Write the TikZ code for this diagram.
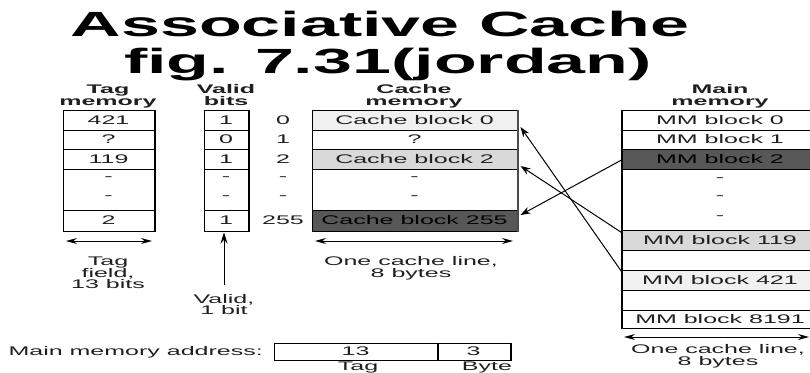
\documentclass[tikz,border=0pt]{standalone}
\usepackage{fontspec}
\setmainfont[FakeStretch=2.0]{Liberation Sans}
\usetikzlibrary{arrows.meta}
\definecolor{lightA}{gray}{0.94}
\definecolor{lightB}{gray}{0.85}
\definecolor{darkC}{gray}{0.34}
\definecolor{txt}{gray}{0.12}
\newcommand\tblfont{\fontsize{12.5}{13}\selectfont}
\newcommand\ttlfont{\fontsize{35}{38}\selectfont\bfseries}
\begin{document}
\begin{tikzpicture}[x=1pt,y=-1pt,
  every node/.style={inner sep=0pt, text=txt, font=\tblfont},
  cell/.style={draw=black, line width=1pt, minimum height=#1},
  cell/.default=20,
  hdr/.style={anchor=base, font=\tblfont\bfseries},
  lbl/.style={anchor=base},
  dblarrow/.style={line width=1pt, {Stealth[length=11pt,width=6pt]}-{Stealth[length=11pt,width=6pt]}},
  conn/.style={line width=1pt, -{Stealth[length=10pt,width=7pt]}},
  thick edge/.style={line width=2pt}]
\useasboundingbox (0,0) rectangle (810,372);
\clip (0,0) rectangle (810,372);

% title
\node[anchor=base, font=\ttlfont, text=black] (title1) at (380,36) {Associative Cache};
\node[anchor=base, font=\ttlfont, text=black] (title2) at (388,73) {fig. 7.31(jordan)};

% headers
\node[hdr] (h1a) at (108,93) {Tag};
\node[hdr] (h1b) at (108,105) {memory};
\node[hdr] (h2a) at (226,93) {Valid};
\node[hdr] (h2b) at (226,105) {bits};
\node[hdr] (h3a) at (414,93) {Cache};
\node[hdr] (h3b) at (414,105) {memory};
\node[hdr] (h4a) at (720,93) {Main};
\node[hdr] (h4b) at (720,105) {memory};

% tag memory
\begin{scope}[every node/.append style={minimum width=91}]
\node[cell] (t0) at (108.5,120) {421};
\node[cell=19] (t1) at (108.5,139.5) {?};
\node[cell] (t2) at (108.5,159) {119};
\node[cell=41] (td) at (108.5,189.5) {};
\node[cell=21] (t3) at (108.5,220.5) {2};
\end{scope}
\node (tdot1) at (108.5,179) {-};
\node (tdot2) at (108.5,198) {-};
\draw[thick edge] (t0.north east) -- (t3.south east);

% valid bits
\begin{scope}[every node/.append style={minimum width=44}]
\node[cell] (v0) at (226,120) {1};
\node[cell=19] (v1) at (226,139.5) {0};
\node[cell] (v2) at (226,159) {1};
\node[cell=41] (vd) at (226,189.5) {};
\node[cell=21] (v3) at (226,220.5) {1};
\end{scope}
\node (vdot1) at (226,179) {-};
\node (vdot2) at (226,198) {-};
\draw[thick edge] (v0.north east) -- (v3.south east);

% index numbers
\node (i0) at (283,120) {0};
\node (i1) at (283,139.5) {1};
\node (i2) at (283,159) {2};
\node (id1) at (283,179) {-};
\node (id2) at (283,198) {-};
\node (i3) at (283,220.5) {255};

% cache memory
\begin{scope}[every node/.append style={minimum width=205}]
\node[cell, fill=lightA] (c0) at (414.5,120) {Cache block 0};
\node[cell=19] (c1) at (414.5,139.5) {?};
\node[cell, fill=lightB] (c2) at (414.5,159) {Cache block 2};
\node[cell=41] (cd) at (414.5,189.5) {};
\node[cell=21, fill=darkC, text=black] (c3) at (414.5,220.5) {Cache block 255};
\end{scope}
\node (cdot1) at (414.5,179) {-};
\node (cdot2) at (414.5,198) {-};
\draw[thick edge, draw=black!70] (c0.north east) -- (c3.south east);

% main memory
\begin{scope}[every node/.append style={minimum width=196}]
\node[cell] (m0) at (720,120) {MM block 0};
\node[cell=19] (m1) at (720,139.5) {MM block 1};
\node[cell, fill=darkC, text=black] (m2) at (720,159) {MM block 2};
\node[cell=61] (md) at (720,199.5) {};
\node[cell, fill=lightB] (m119) at (720,240) {MM block 119};
\node[cell] (mb1) at (720,260) {};
\node[cell, fill=lightA] (m421) at (720,280) {MM block 421};
\node[cell] (mb2) at (720,300) {};
\node[cell=18] (m8191) at (720,319) {MM block 8191};
\end{scope}
\node (mdot1) at (720,180) {-};
\node (mdot2) at (720,198) {-};
\node (mdot3) at (720,218) {-};
\draw[thick edge] (m0.north west) -- (m8191.south west);

% connectors
\draw[conn] ([yshift=-2pt]m421.north west) -- ([xshift=3pt,yshift=-7pt]c0.east);
\draw[conn] ([yshift=-3pt]m119.north west) -- ([xshift=3pt,yshift=-7pt]c2.east);
\draw[conn] ([yshift=-1pt]m2.west) -- ([xshift=3pt,yshift=5.5pt]c3.east);

% width arrows and labels
\coordinate (ta1) at (66,241);
\coordinate (ta2) at (152,241);
\draw[dblarrow] (ta1) -- (ta2);
\node[lbl] (tl1) at (108,265) {Tag};
\node[lbl] (tl2) at (108,277) {field,};
\node[lbl] (tl3) at (108,288) {13 bits};

\coordinate (ca1) at (315,241);
\coordinate (ca2) at (513,241);
\draw[dblarrow] (ca1) -- (ca2);
\node[lbl] (cl1) at (411,265) {One cache line,};
\node[lbl] (cl2) at (411,277) {8 bytes};

\coordinate (ma1) at (624,337);
\coordinate (ma2) at (809,337);
\draw[dblarrow] (ma1) -- (ma2);
\node[lbl] (ml1) at (718,353) {One cache line,};
\node[lbl] (ml2) at (718,365) {8 bytes};

\coordinate (va) at (224,285);
\draw[line width=1pt, -{Stealth[length=11pt,width=7pt]}] (va) -- ([yshift=-1pt]v3.south -| va);
\node[lbl] (vl1) at (224,303) {Valid,};
\node[lbl] (vl2) at (224,314) {1 bit};

% main memory address
\node[anchor=base east] (mal) at (263,355) {Main memory address:};
\node[cell=17, minimum width=163] (af1) at (355.5,351.5) {13};
\node[cell=17, minimum width=73] (af2) at (473.5,351.5) {3};
\draw[thick edge] (af2.north east) -- (af2.south east);
\draw[thick edge] (af1.north east) -- (af1.south east);
\node[lbl] (al1) at (358,370) {Tag};
\node[lbl] (al2) at (487,370) {Byte};
\end{tikzpicture}
\end{document}
